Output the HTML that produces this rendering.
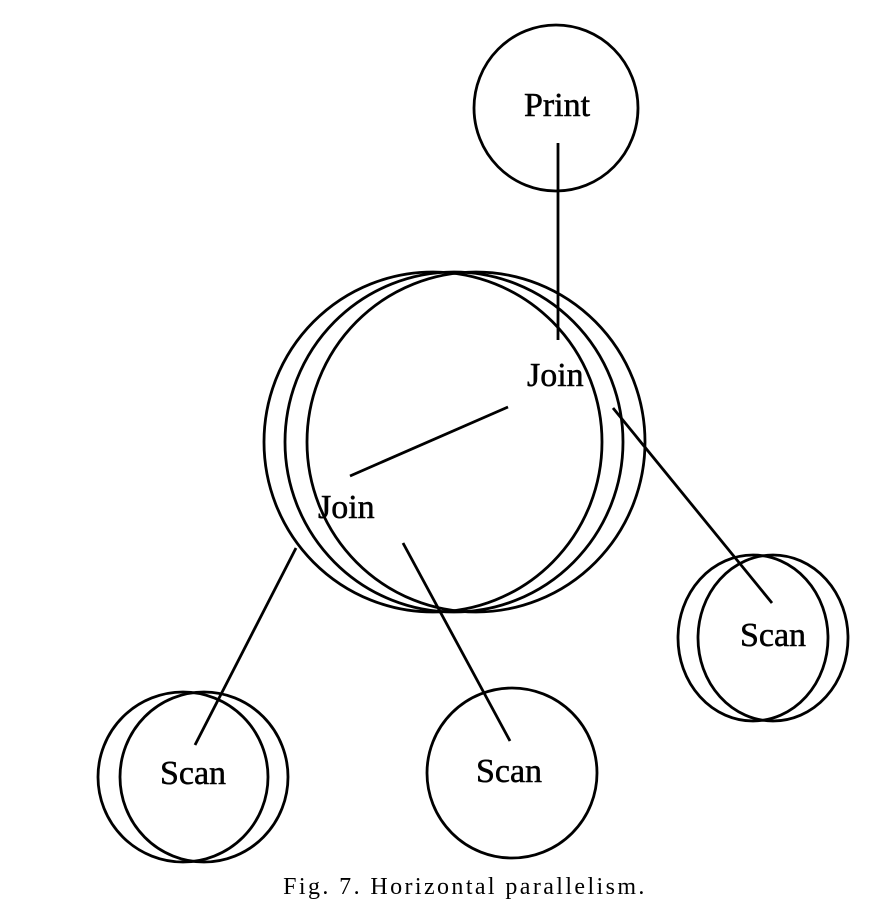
<!DOCTYPE html>
<html><head><meta charset="utf-8"><style>
html,body{margin:0;padding:0;background:#fff;}
svg{display:block;}
text{font-family:"Liberation Serif",serif;fill:#000;}
.l{stroke:#000;stroke-width:0.5;}
</style></head><body>
<svg width="896" height="914" viewBox="0 0 896 914" xmlns="http://www.w3.org/2000/svg">
<g fill="none" stroke="#000" stroke-width="2.8">
<ellipse cx="556" cy="108" rx="82" ry="83"/>
<ellipse cx="433" cy="442" rx="169" ry="170"/>
<ellipse cx="454" cy="442" rx="169" ry="170"/>
<ellipse cx="476" cy="442" rx="169" ry="170"/>
<ellipse cx="183" cy="777" rx="85" ry="85"/>
<ellipse cx="204" cy="777" rx="84" ry="85"/>
<ellipse cx="512" cy="773" rx="85" ry="85"/>
<ellipse cx="753" cy="638" rx="75" ry="83"/>
<ellipse cx="773" cy="638" rx="75" ry="83"/>
<line x1="558" y1="143" x2="558" y2="340"/>
<line x1="350" y1="476" x2="508" y2="407"/>
<line x1="613" y1="408" x2="772" y2="603"/>
<line x1="296" y1="548" x2="195" y2="745"/>
<line x1="403" y1="543" x2="510" y2="741"/>
</g>
<text class="l" x="557" y="116" font-size="34" text-anchor="middle">Print</text>
<text class="l" x="527" y="386" font-size="34">Join</text>
<text class="l" x="318" y="518" font-size="34">Join</text>
<text class="l" x="193" y="784" font-size="34" text-anchor="middle">Scan</text>
<text class="l" x="509" y="782" font-size="34" text-anchor="middle">Scan</text>
<text class="l" x="773" y="646" font-size="34" text-anchor="middle">Scan</text>
<text x="465" y="894" font-size="24" text-anchor="middle" letter-spacing="2.4">Fig. 7.  Horizontal parallelism.</text>
</svg>
</body></html>
